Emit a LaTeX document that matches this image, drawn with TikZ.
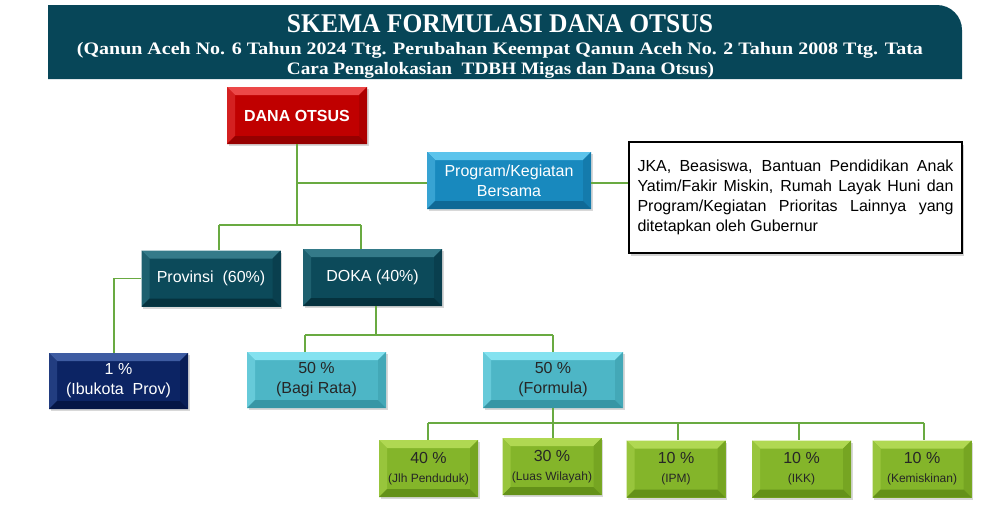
\documentclass[tikz,border=0pt]{standalone}
\usepackage{fontspec}
\usepackage{graphicx}
\setmainfont{Liberation Serif}
\newfontfamily\arial{Liberation Sans}
\usetikzlibrary{shadows}
\hyphenpenalty=10000
\exhyphenpenalty=10000
\definecolor{hdr}{RGB}{7,70,88}
\definecolor{redB}{RGB}{192,0,0}
\definecolor{redL}{RGB}{236,72,72}
\definecolor{redD}{RGB}{150,0,0}
\definecolor{progB}{RGB}{24,137,190}
\definecolor{progL}{RGB}{92,196,236}
\definecolor{progD}{RGB}{15,105,150}
\definecolor{tealB}{RGB}{12,74,90}
\definecolor{tealL}{RGB}{52,122,137}
\definecolor{tealD}{RGB}{5,50,62}
\definecolor{navyB}{RGB}{12,36,100}
\definecolor{navyL}{RGB}{62,92,162}
\definecolor{navyD}{RGB}{5,22,70}
\definecolor{cyanB}{RGB}{77,182,198}
\definecolor{cyanL}{RGB}{132,226,240}
\definecolor{cyanD}{RGB}{55,150,165}
\definecolor{grnB}{RGB}{132,181,42}
\definecolor{grnL}{RGB}{176,216,82}
\definecolor{grnD}{RGB}{100,145,25}
\definecolor{lineG}{RGB}{105,170,65}
\newcommand\bevfaces[3]{%
  \coordinate (bvnw) at (path picture bounding box.north west);
  \coordinate (bvne) at (path picture bounding box.north east);
  \coordinate (bvsw) at (path picture bounding box.south west);
  \coordinate (bvse) at (path picture bounding box.south east);
  \fill[#2] (bvnw) -- (bvne) -- ([shift={(-8pt,-8pt)}]bvne) -- ([shift={(8pt,-8pt)}]bvnw) -- cycle;
  \fill[#1!55!#2] (bvnw) -- ([shift={(8pt,-8pt)}]bvnw) -- ([shift={(8pt,8pt)}]bvsw) -- (bvsw) -- cycle;
  \fill[#1!55!#3] (bvne) -- ([shift={(-8pt,-8pt)}]bvne) -- ([shift={(-8pt,8pt)}]bvse) -- (bvse) -- cycle;
  \fill[#3] (bvsw) -- ([shift={(8pt,8pt)}]bvsw) -- ([shift={(-8pt,8pt)}]bvse) -- (bvse) -- cycle;
}
\begin{document}
\begin{tikzpicture}[x=1pt,y=-1pt,
  conn/.style={draw=lineG, line width=1.3pt},
  bevbox/.style n args={3}{rectangle, inner sep=0pt, fill=#1, draw=none,
    path picture={\bevfaces{#1}{#2}{#3}},
    drop shadow={shadow xshift=1.5pt, shadow yshift=-2pt, opacity=0.3},
    align=center, font=\arial\fontsize{16}{20}\selectfont},
  bigbox/.style={minimum width=139pt, minimum height=56pt},
  smallbox/.style={minimum width=99pt, minimum height=57pt},
  hdrtext/.style={anchor=base, text=white, inner sep=0pt, font=\bfseries},
  notebox/.style={rectangle, draw=black, line width=2.2pt, fill=white,
    drop shadow={shadow xshift=2pt, shadow yshift=-2.5pt, opacity=0.35},
    inner xsep=8.5pt, text width=316pt, minimum height=111pt, align=justify,
    font=\arial\fontsize{16}{20}\selectfont}
  ]
\useasboundingbox (0,0) rectangle (984,523);
\fill[white] (0,0) rectangle (984,523);
% header
\fill[hdr] (48,79) -- (48,5) -- (937,5) arc[start angle=90, end angle=0, radius=25pt] -- (962,79) -- cycle;
\node[hdrtext] (title) at (500,32) {\resizebox{426pt}{\height}{\fontsize{27}{27}\selectfont\bfseries SKEMA FORMULASI DANA OTSUS}};
\node[hdrtext] (sub1) at (500,54) {\resizebox{846pt}{\height}{\fontsize{17.5}{20}\selectfont\bfseries (Qanun Aceh No. 6 Tahun 2024 Ttg. Perubahan Keempat Qanun Aceh No. 2 Tahun 2008 Ttg. Tata}};
\node[hdrtext] (sub2) at (500.5,74) {\resizebox{427pt}{\height}{\fontsize{17.5}{20}\selectfont\bfseries Cara Pengalokasian~ TDBH Migas dan Dana Otsus)}};
% boxes
\node[bevbox={redB}{redL}{redD}, minimum width=140pt, minimum height=57pt, text=white, font=\arial\bfseries\fontsize{16}{20}\selectfont] (dana) at (297,115.5) {DANA OTSUS};
\node[bevbox={progB}{progL}{progD}, minimum width=164pt, minimum height=57pt, text=white] (prog) at (509,180.5) {Program/Kegiatan\\Bersama};
\node[notebox] (jka) at (795.5,197.5) {JKA, Beasiswa, Bantuan Pendidikan Anak Yatim/Fakir Miskin, Rumah Layak Huni dan Program/Kegiatan Prioritas Lainnya yang ditetapkan oleh Gubernur};
\node[bevbox={tealB}{tealL}{tealD}, bigbox, text=white] (prov) at (211,278.5) {Provinsi~ (60\%)};
\node[bevbox={tealB}{tealL}{tealD}, bigbox, text=white, minimum height=57pt] (doka) at (372.5,277.5) {DOKA (40\%)};
\node[bevbox={navyB}{navyL}{navyD}, bigbox, text=white] (ibu) at (118.5,381) {1 \%\\(Ibukota~ Prov)};
\node[bevbox={cyanB}{cyanL}{cyanD}, bigbox, text=black!85] (bagi) at (316.5,380) {50 \%\\(Bagi Rata)};
\node[bevbox={cyanB}{cyanL}{cyanD}, bigbox, minimum width=140pt, text=black!85] (form) at (553,380) {50 \%\\(Formula)};
\node[bevbox={grnB}{grnL}{grnD}, smallbox, text=black!85] (g1) at (428.5,468.5) {40 \%\\[-1pt]{\fontsize{12}{14}\selectfont (Jlh Penduduk)}};
\node[bevbox={grnB}{grnL}{grnD}, smallbox, text=black!85] (g2) at (552,466.5) {30 \%\\[-1pt]{\fontsize{12}{14}\selectfont (Luas Wilayah)}};
\node[bevbox={grnB}{grnL}{grnD}, smallbox, text=black!85] (g3) at (676,469) {10 \%\\[-1pt]{\fontsize{12}{14}\selectfont (IPM)}};
\node[bevbox={grnB}{grnL}{grnD}, smallbox, text=black!85] (g4) at (801.5,469) {10 \%\\[-1pt]{\fontsize{12}{14}\selectfont (IKK)}};
\node[bevbox={grnB}{grnL}{grnD}, smallbox, text=black!85] (g5) at (922,469) {10 \%\\[-1pt]{\fontsize{12}{14}\selectfont (Kemiskinan)}};
% connectors
\coordinate (j1) at (297,225);
\coordinate (p1) at (297,183);
\coordinate (bL) at (219,225);
\coordinate (bR) at (361,225);
\draw[conn] (dana.south) -- (j1);
\draw[conn] (p1) -- (p1 -| prog.west);
\draw[conn] (prog.east |- p1) -- (jka.west |- p1);
\draw[conn] (bL) -- (bR);
\draw[conn] (bL) -- (bL |- prov.north);
\draw[conn] (bR) -- (bR |- doka.north);
\coordinate (c1) at (114,278.5);
\draw[conn] (prov.west) -- (c1) -- (c1 |- ibu.north);
\coordinate (d1) at (376,335);
\coordinate (d2) at (305,335);
\coordinate (d3) at (553,335);
\draw[conn] (d1 |- doka.south) -- (d1);
\draw[conn] (d2) -- (d3);
\draw[conn] (d2) -- (d2 |- bagi.north);
\draw[conn] (d3) -- (d3 |- form.north);
\coordinate (f1) at (553,423);
\coordinate (fL) at (428,423);
\coordinate (f3) at (678,423);
\coordinate (f4) at (799,423);
\coordinate (fR) at (924,423);
\draw[conn] (form.south) -- (f1);
\draw[conn] (fL) -- (fR);
\draw[conn] (fL) -- (fL |- g1.north);
\draw[conn] (f1) -- (f1 |- g2.north);
\draw[conn] (f3) -- (f3 |- g3.north);
\draw[conn] (f4) -- (f4 |- g4.north);
\draw[conn] (fR) -- (fR |- g5.north);
\end{tikzpicture}
\end{document}
